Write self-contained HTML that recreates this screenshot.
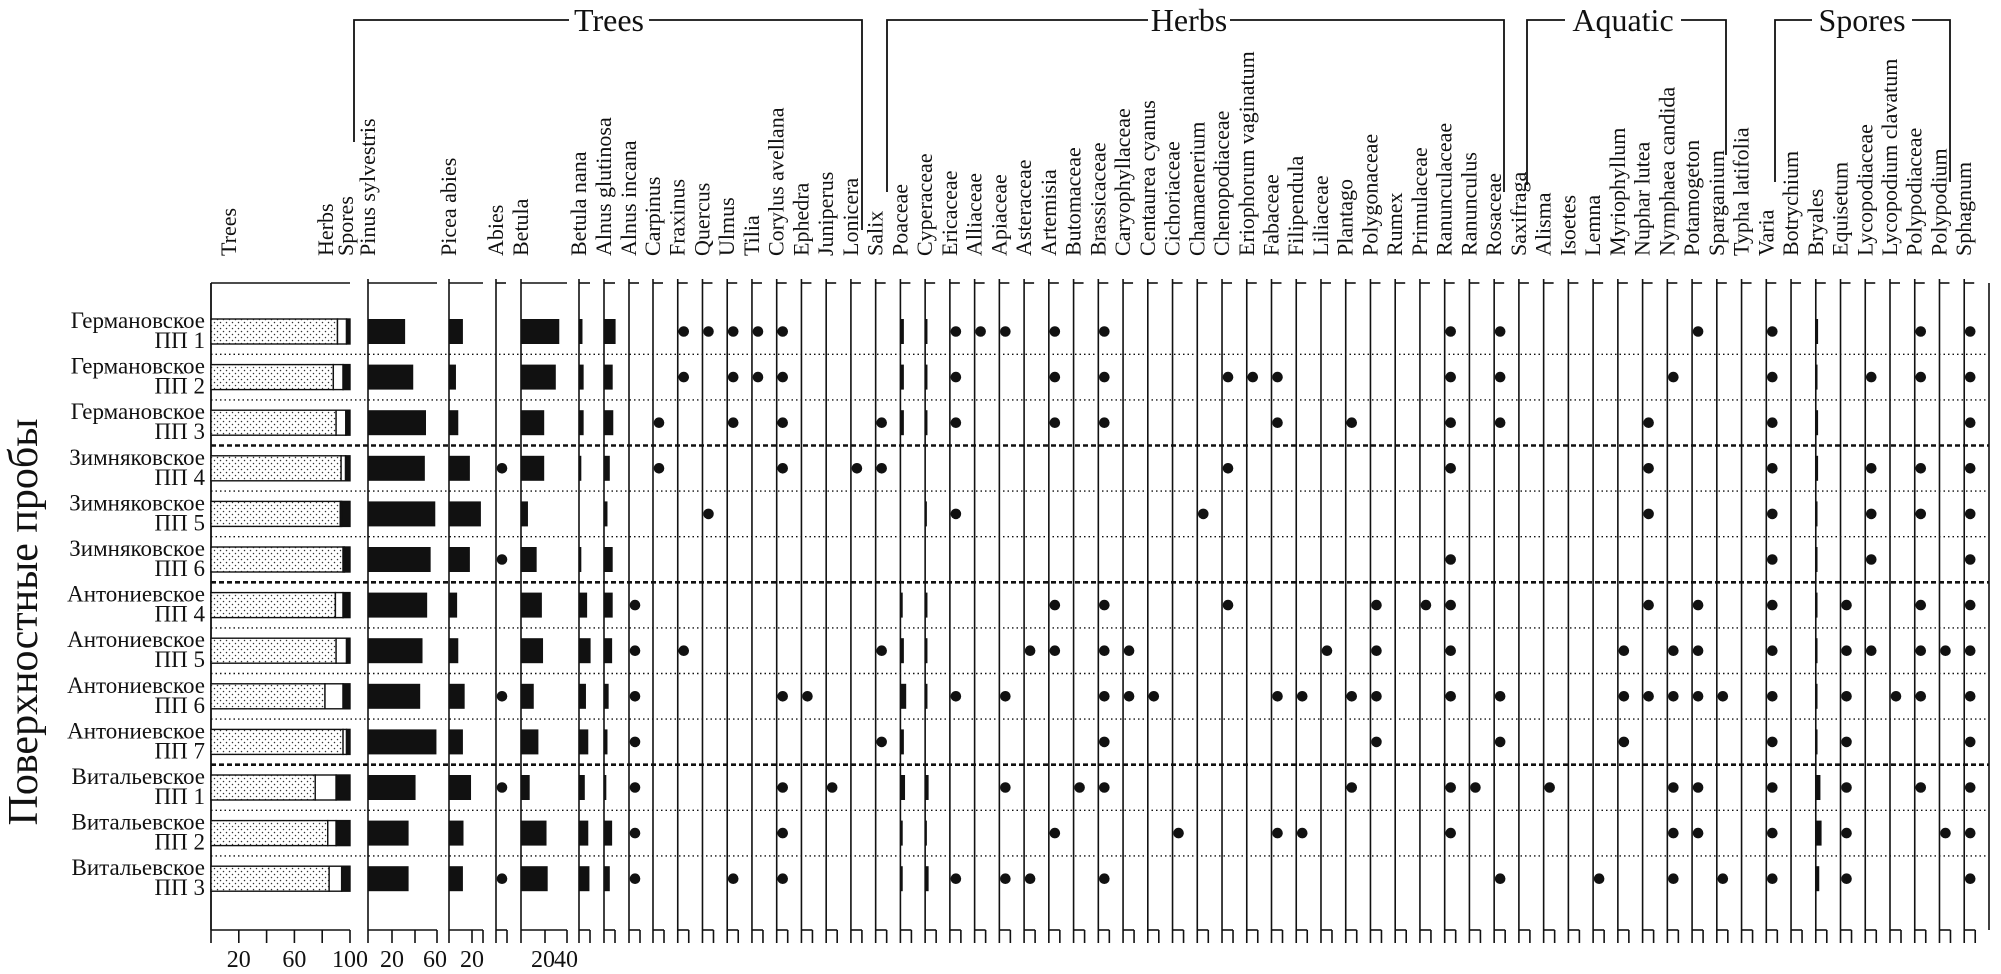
<!DOCTYPE html>
<html><head><meta charset="utf-8"><style>
html,body{margin:0;padding:0;background:#fff;}
svg{display:block;font-family:"Liberation Serif","Noto Serif CJK SC",serif;}
</style></head><body>
<svg id="chart" width="2001" height="974" viewBox="0 0 2001 974" xmlns="http://www.w3.org/2000/svg">
<defs>
<pattern id="dots" width="6" height="6" patternUnits="userSpaceOnUse">
<rect width="6" height="6" fill="#fff"/>
<circle cx="1.5" cy="1.5" r="0.75" fill="#333"/>
<circle cx="4.5" cy="4.5" r="0.75" fill="#333"/>
</pattern>
</defs>
<text transform="translate(37,622) rotate(-90)" text-anchor="middle" font-size="42" fill="#111">Поверхностные пробы</text>
<g id="g"></g>
</svg>
<script>
// ---- data ----
const sites = ["Германовское","Германовское","Германовское","Зимняковское","Зимняковское","Зимняковское","Антониевское","Антониевское","Антониевское","Антониевское","Витальевское","Витальевское","Витальевское"];
const samples = ["ПП 1","ПП 2","ПП 3","ПП 4","ПП 5","ПП 6","ПП 4","ПП 5","ПП 6","ПП 7","ПП 1","ПП 2","ПП 3"];
const treesPct = [91,88,90,93.6,93,95,89.5,90,82,95,75,84,85];
const herbsCum = [97.5,95,97,96.8,94,96,95,97.5,95,97.5,90,90,94];
const pinus = [32,39,50,49,58,54,51,47,45,59,41,35,35];
const picea = [12,6,8,18,27.5,18,7,8,13.5,12,19,12.5,12];
const betula = [33,30,20,20,6,13.5,18,19,11,15,7.5,22,23];
const betulaNana = [3,4,4,2,0,2,7,10,6,8,5,8,9];
const alnusGlutinosa = [10,7.5,8,5,3,7.5,7.5,7,4,3,2,7,5];
const poaceae = [3,3,3,0,0,0,2,3,5,3,4,2,2];
const cyperaceae = [2,2,2,0,1.5,0,2,2,2,0,3,1.5,3];
const bryales = [2,1.5,2,2,1.5,1.5,1.5,1.5,1.5,1.5,4,5,3];
const abiesRows = [3,5,8,10,12];
const alnusIncanaRows = [6,7,8,9,10,11,12];
const dotTaxa = ["Carpinus","Fraxinus","Quercus","Ulmus","Tilia","Corylus avellana","Ephedra","Juniperus","Lonicera","Salix","Poaceae","Cyperaceae","Ericaceae","Alliaceae","Apiaceae","Asteraceae","Artemisia","Butomaceae","Brassicaceae","Caryophyllaceae","Centaurea cyanus","Cichoriaceae","Chamaenerium","Chenopodiaceae","Eriophorum vaginatum","Fabaceae","Filipendula","Liliaceae","Plantago","Polygonaceae","Rumex","Primulaceae","Ranunculaceae","Ranunculus","Rosaceae","Saxifraga","Alisma","Isoetes","Lemna","Myriophyllum","Nuphar lutea","Nymphaea candida","Potamogeton","Sparganium","Typha latifolia","Varia","Botrychium","Bryales","Equisetum","Lycopodiaceae","Lycopodium clavatum","Polypodiaceae","Polypodium","Sphagnum"];
const dotRows = [[2,3],[0,1,7],[0,4],[0,1,2,12],[0,1],[0,1,2,3,8,10,11,12],[8],[10],[3],[2,3,7,9],null,null,[0,1,2,4,8,12],[0],[0,8,10,12],[7,12],[0,1,2,6,7,11],[10],[0,1,2,6,7,8,9,10,12],[7,8],[8],[11],[4],[1,3,6],[1],[1,2,8,11],[8,11],[7],[2,8,10],[6,7,8,9],[],[6],[0,1,2,3,5,6,7,8,10,11],[10],[0,1,2,8,9,12],[],[10],[],[12],[7,8,9],[2,3,4,6,8],[1,7,8,10,11,12],[0,6,7,8,10,11],[8,12],[],[0,1,2,3,4,5,6,7,8,9,10,11,12],[],null,[6,7,8,9,10,11,12],[1,3,4,5,7],[8],[0,1,3,4,6,7,8,10],[7,11],[0,1,2,3,4,5,6,7,8,9,10,11,12]];
const groupNames = ["Trees","Herbs","Aquatic","Spores"];
const compTicks = [20,60,100];

// ---- layout ----
const NS="http://www.w3.org/2000/svg";
const G=document.getElementById('g');
function el(tag,attrs,parent){const e=document.createElementNS(NS,tag);for(const k in attrs)e.setAttribute(k,attrs[k]);(parent||G).appendChild(e);return e;}
const TOP=283, BOT=930, ROW0=319, ROWH=45.6, BARH=25;
const rowTop=i=>ROW0+i*ROWH;
const rowMid=i=>rowTop(i)+BARH/2;
const SC=1.16;
const compX=p=>211+p*1.39;

function vlabel(x,text,name){
  const t=el('text',{x:0,y:0,transform:`translate(${x+7},256) rotate(-90)`,'font-size':22,fill:'#111'});
  t.textContent=text;
  
  
}
function colLine(x,w,name){
  const l=el('line',{x1:x,y1:279,x2:x,y2:BOT,stroke:'#111','stroke-width':1.6});
  
  
  el('line',{x1:x,y1:TOP,x2:x+w,y2:TOP,stroke:'#111','stroke-width':1.6});
}
function bottomAxis(x0,x1,ticks){
  el('line',{x1:x0,y1:BOT,x2:x1,y2:BOT,stroke:'#111','stroke-width':1.6});
  ticks.forEach(t=>el('line',{x1:t,y1:BOT,x2:t,y2:943,stroke:'#111','stroke-width':1.6}));
}
function tickLabel(x,s){
  const t=el('text',{x:x,y:967,'text-anchor':'middle','font-size':24,fill:'#111'});
  t.textContent=s;
  
  
}
function bar(x,v,i,name){
  if(v<=0)return;
  const r=el('rect',{x:x,y:rowTop(i),width:v*SC,height:BARH,fill:'#111'});
  
  
}
function dot(x,i,name){
  const c=el('circle',{cx:x+6,cy:rowMid(i),r:5.3,fill:'#111'});
  
  
}

// row separators
for(let i=0;i<12;i++){
  const y=rowTop(i)+BARH+(ROWH-BARH)/2;
  const heavy=(i===2||i===5||i===9);
  const s=el('line',{x1:211,y1:y,x2:1989,y2:y,stroke:'#111','stroke-width':heavy?2.6:1.4,'stroke-dasharray':heavy?'5 3':'1.5 3'});
  
  
}

// sample labels
sites.forEach((s,i)=>{
  const t1=el('text',{x:205,y:rowTop(i)+9,'text-anchor':'end','font-size':23,fill:'#111'});
  t1.textContent=s;
  
  
  const t2=el('text',{x:205,y:rowTop(i)+29,'text-anchor':'end','font-size':23,fill:'#111'});
  t2.textContent=samples[i];
  
  
});

// composite column
el('line',{x1:211,y1:TOP,x2:211,y2:BOT,stroke:'#111','stroke-width':1.8});
el('line',{x1:211,y1:TOP,x2:350,y2:TOP,stroke:'#111','stroke-width':1.6});
vlabel(229,"Trees","trees-summary-label");
vlabel(326,"Herbs","herbs-summary-label");
vlabel(346,"Spores","spores-summary-label");
bottomAxis(211,350,[0,20,40,60,80,100].map(compX));
compTicks.forEach(t=>tickLabel(compX(t),String(t)));
treesPct.forEach((tv,i)=>{
  const y=rowTop(i);
  const a=el('rect',{x:compX(0),y:y,width:compX(tv)-compX(0),height:BARH,fill:'url(#dots)',stroke:'#111','stroke-width':1.4});
  
  
  const b=el('rect',{x:compX(tv),y:y,width:compX(herbsCum[i])-compX(tv),height:BARH,fill:'#fff',stroke:'#111','stroke-width':1.4});
  
  
  const c=el('rect',{x:compX(herbsCum[i]),y:y,width:compX(100)-compX(herbsCum[i]),height:BARH,fill:'#111',stroke:'#111','stroke-width':1.4});
  
  
});

// tree bar columns
const barCols=[[368,"Pinus sylvestris",pinus,69,[368,392,415,437],[[392,"20"],[435,"60"]]],
 [449,"Picea abies",picea,34,[449,472,483],[[472,"20"]]],
 [521,"Betula",betula,46,[521,545,567],[[543,"20"],[566,"40"]]],
 [579,"Betula nana",betulaNana,11,[579,590],[]],
 [604,"Alnus glutinosa",alnusGlutinosa,11,[604,615],[]]];
barCols.forEach(([x,name,vals,w,ticks,labs])=>{
  colLine(x,w,'axis-'+name.toLowerCase().replace(/ /g,'-'));
  vlabel(x,name,'label-'+name.toLowerCase().replace(/ /g,'-'));
  bottomAxis(x,ticks[ticks.length-1],ticks);
  labs.forEach(([lx,s])=>tickLabel(lx,s));
  vals.forEach((v,i)=>bar(x,v,i,'bar-'+name.toLowerCase().replace(/ /g,'-')));
});
// Abies & Alnus incana dot columns
[[496,"Abies",abiesRows],[629,"Alnus incana",alnusIncanaRows]].forEach(([x,name,rows])=>{
  colLine(x,10,'axis-'+name.toLowerCase().replace(/ /g,'-'));
  vlabel(x,name,'label-'+name.toLowerCase().replace(/ /g,'-'));
  bottomAxis(x,x+11,[x,x+11]);
  rows.forEach(i=>dot(x,i,'dot-'+name.toLowerCase().replace(/ /g,'-')));
});
// remaining columns
const smallBars={"Poaceae":poaceae,"Cyperaceae":cyperaceae,"Bryales":bryales};
dotTaxa.forEach((name,k)=>{
  const x=653+k*24.74;
  const slug=name.toLowerCase().replace(/ /g,'-');
  colLine(x,10,'axis-'+slug);
  vlabel(x,name,'label-'+slug);
  bottomAxis(x,x+11,[x,x+11]);
  if(dotRows[k]) dotRows[k].forEach(i=>dot(x,i,'dot-'+slug));
  else smallBars[name].forEach((v,i)=>bar(x,v,i,'bar-'+slug));
});
const endL=el('line',{x1:1989,y1:TOP,x2:1989,y2:BOT,stroke:'#111','stroke-width':1.6});



// group brackets
const brackets=[[354,142,862,230,609,72],[887,192,1504,192,1189,74],[1527,185,1726,155,1623,108],[1775,182,1950,182,1862,92]];
brackets.forEach(([lx,ly,rx,ry,cx,tw],gi)=>{
  const p=el('path',{d:`M${lx},${ly} V20 H${cx-tw/2-4} M${cx+tw/2+4},20 H${rx} V${ry}`,fill:'none',stroke:'#111','stroke-width':1.8});
  
  
  const t=el('text',{x:cx,y:31,'text-anchor':'middle','font-size':32,fill:'#111'});
  t.textContent=groupNames[gi];
  
  
});
</script>
</body></html>
